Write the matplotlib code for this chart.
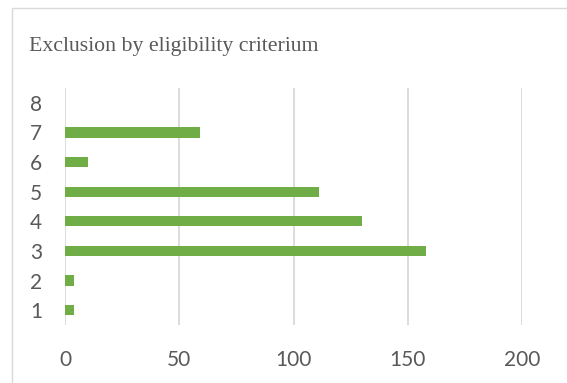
import matplotlib
matplotlib.use("Agg")
import matplotlib.pyplot as plt
from matplotlib.patches import Rectangle

# data
criteria = ["1", "2", "3", "4", "5", "6", "7", "8"]
excluded = [4, 4, 158, 130, 111, 10, 59, 0]
x_ticks = [0, 50, 100, 150, 200]

text_grey = "#595959"
grid_grey = "#D9D9D9"
bar_green = "#70AD47"

fig = plt.figure(figsize=(5.67, 3.83), dpi=100)
fig.patch.set_facecolor("white")

# chart-area border like the Excel frame
fig.add_artist(Rectangle((12 / 567, -0.05), 1.0, 1 - 8 / 383 + 0.05,
                         transform=fig.transFigure, fill=False,
                         edgecolor="#D9D9D9", linewidth=1.0))

ax = fig.add_axes([65 / 567, 1 - 325 / 383, (522 - 65) / 567, (325 - 88) / 383])
ypos = list(range(len(criteria)))
ax.barh(ypos, excluded, height=0.35, color=bar_green, zorder=3)

ax.set_xlim(0, 200)
ax.set_ylim(-0.5, len(criteria) - 0.5)
ax.set_xticks(x_ticks)
ax.set_yticks(ypos)
ax.set_yticklabels(criteria)
ax.xaxis.grid(True, color=grid_grey, linewidth=1.3, zorder=0)
ax.tick_params(axis="both", length=0, labelsize=15, colors=text_grey)
ax.tick_params(axis="x", pad=18)
ax.tick_params(axis="y", pad=16.5)
for lab in ax.get_xticklabels() + ax.get_yticklabels():
    lab.set_family("Lato")
for s in ax.spines.values():
    s.set_visible(False)

fig.text(29 / 567, 1 - 46 / 383, "Exclusion by eligibility criterium",
         family="Liberation Serif", fontsize=15.7, color=text_grey, va="center")

fig.savefig("out.png", dpi=100)
